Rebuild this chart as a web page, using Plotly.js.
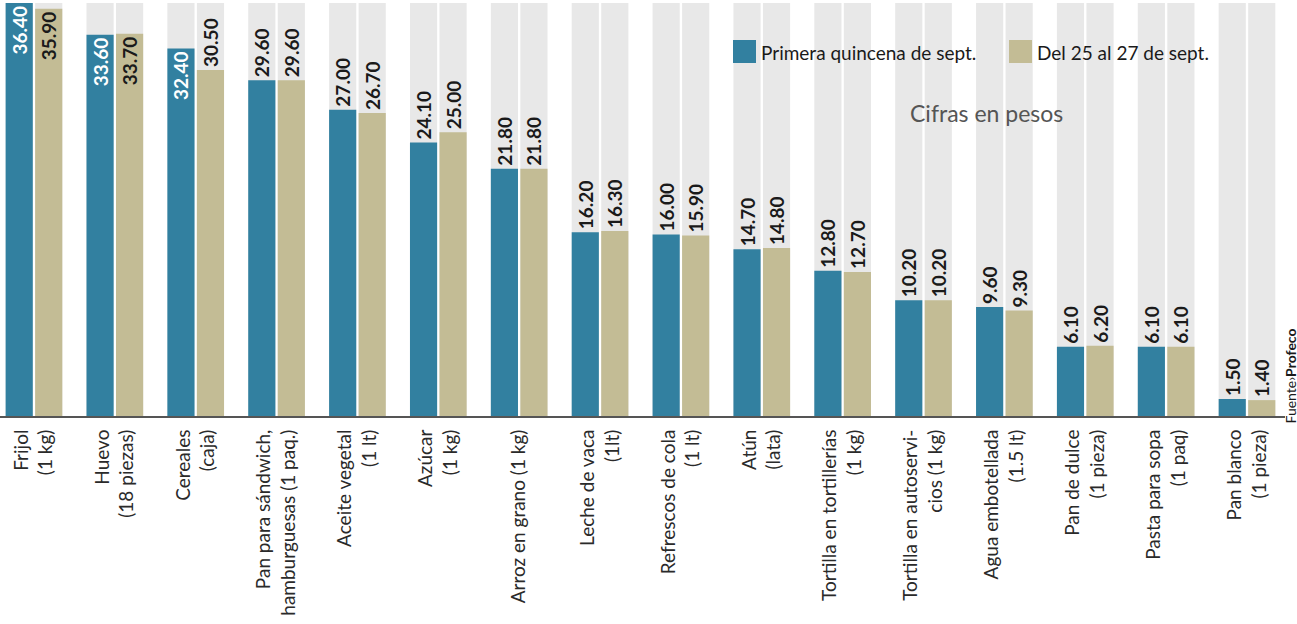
<!DOCTYPE html>
<html>
<head>
<meta charset="utf-8">
<script src="https://cdn.plot.ly/plotly-3.0.1.min.js"></script>
<style>html,body{margin:0;padding:0;background:#fff;}#chart{width:1297px;height:624px;}</style>
</head>
<body>
<div id="chart"></div>
<script>
const categories = [
  "Frijol<br>(1 kg)",
  "Huevo<br>(18 piezas)",
  "Cereales<br>(caja)",
  "Pan para sándwich,<br>hamburguesas (1 paq.)",
  "Aceite vegetal<br>(1 lt)",
  "Azúcar<br>(1 kg)",
  "Arroz en grano (1 kg)",
  "Leche de vaca<br>(1lt)",
  "Refrescos de cola<br>(1 lt)",
  "Atún<br>(lata)",
  "Tortilla en tortillerías<br>(1 kg)",
  "Tortilla en autoservi-<br>cios (1 kg)",
  "Agua embotellada<br>(1.5 lt)",
  "Pan de dulce<br>(1 pieza)",
  "Pasta para sopa<br>(1 paq)",
  "Pan blanco<br>(1 pieza)"
];
const primeraQuincena = [36.40, 33.60, 32.40, 29.60, 27.00, 24.10, 21.80, 16.20, 16.00, 14.70, 12.80, 10.20, 9.60, 6.10, 6.10, 1.50];
const del25al27 = [35.90, 33.70, 30.50, 29.60, 26.70, 25.00, 21.80, 16.30, 15.90, 14.80, 12.70, 10.20, 9.30, 6.20, 6.10, 1.40];
const seriesNames = ["Primera quincena de sept.", "Del 25 al 27 de sept."];

const BLUE = "#3280a0", TAN = "#c3bc95", TRACK = "#e8e8e8";
const maxVal = Math.max(...primeraQuincena, ...del25al27);
const trackVals = categories.map(() => maxVal);
const fmt = v => v.toFixed(2);
const posFor = v => v > 31 ? "inside" : "outside";

const W = 1297, H = 624, ML = 0, MR = 12, MT = 3, MB = 208;
const PW = W - ML - MR, PH = H - MT - MB;
const px = x => (x - ML) / PW;
const py = y => (H - MB - y) / PH;

const traces = [
  {type: "bar", x: categories, y: trackVals, offsetgroup: "A", marker: {color: TRACK}, hoverinfo: "skip", showlegend: false},
  {type: "bar", x: categories, y: trackVals, offsetgroup: "B", marker: {color: TRACK}, hoverinfo: "skip", showlegend: false},
  {type: "bar", name: seriesNames[0], x: categories, y: primeraQuincena, offsetgroup: "A",
   marker: {color: BLUE}, text: primeraQuincena.map(fmt), textangle: -90,
   textposition: primeraQuincena.map(posFor), insidetextanchor: "end", cliponaxis: false,
   textfont: {family: "Lato", size: 19, weight: 700, color: primeraQuincena.map(v => posFor(v) === "inside" ? "#ffffff" : "#1a1a1a")},
   constraintext: "none", showlegend: false},
  {type: "bar", name: seriesNames[1], x: categories, y: del25al27, offsetgroup: "B",
   marker: {color: TAN}, text: del25al27.map(fmt), textangle: -90,
   textposition: del25al27.map(posFor), insidetextanchor: "end", cliponaxis: false,
   textfont: {family: "Lato", size: 19, weight: 700, color: "#1a1a1a"},
   constraintext: "none", showlegend: false}
];

const layout = {
  width: W, height: H,
  margin: {l: ML, r: MR, t: MT, b: MB},
  paper_bgcolor: "#ffffff", plot_bgcolor: "#ffffff",
  barmode: "group", bargap: 0.27, bargroupgap: 0.08,
  showlegend: false,
  font: {family: "Lato", color: "#2a2a2a"},
  xaxis: {
    type: "category", range: [-0.42, 15.47],
    tickangle: -90, tickfont: {family: "Lato", size: 19, color: "#2a2a2a"},
    showline: true, linecolor: "#555", linewidth: 2, ticks: "", showgrid: false,
    ticklabelstandoff: 4
  },
  yaxis: {range: [0, maxVal], visible: false, showgrid: false, zeroline: false},
  shapes: [
    {type: "rect", xref: "paper", yref: "paper", x0: px(733), x1: px(756), y0: py(63), y1: py(40), fillcolor: BLUE, line: {width: 0}},
    {type: "rect", xref: "paper", yref: "paper", x0: px(1009), x1: px(1032), y0: py(63), y1: py(40), fillcolor: TAN, line: {width: 0}}
  ],
  annotations: [
    {xref: "paper", yref: "paper", x: px(759), y: py(52), xanchor: "left", yanchor: "middle", showarrow: false,
     text: seriesNames[0], font: {family: "Lato", size: 19, color: "#1a1a1a"}},
    {xref: "paper", yref: "paper", x: px(1035), y: py(52), xanchor: "left", yanchor: "middle", showarrow: false,
     text: seriesNames[1], font: {family: "Lato", size: 19, color: "#1a1a1a"}},
    {xref: "paper", yref: "paper", x: px(986), y: py(113), xanchor: "center", yanchor: "middle", showarrow: false,
     text: "Cifras en pesos", font: {family: "Lato", size: 23, color: "#555"}},
    {xref: "paper", yref: "paper", x: px(1290), y: py(426), xanchor: "center", yanchor: "bottom", showarrow: false,
     textangle: -90, text: "Fuente›<b>Profeco</b>", font: {family: "Lato", size: 14, color: "#1a1a1a"}}
  ]
};

Plotly.newPlot("chart", traces, layout, {staticPlot: true, displayModeBar: false});
</script>
</body>
</html>
